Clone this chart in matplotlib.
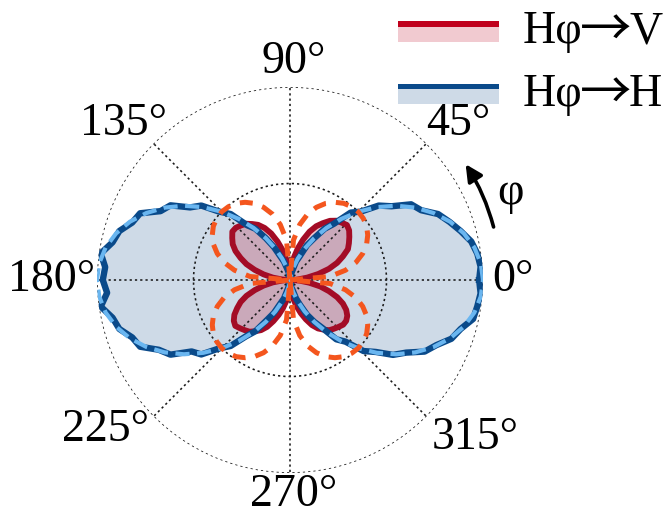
import numpy as np
import matplotlib
matplotlib.use("Agg")
import matplotlib.pyplot as plt
from matplotlib.patches import Rectangle

plt.rcParams["font.family"] = ["Liberation Serif", "DejaVu Serif"]

# Measured intensities (normalised), sampled every 4 degrees of φ
meas_deg = np.arange(0, 360, 4)
hh_meas = [0.98, 0.99, 0.98, 0.96, 0.92, 0.88, 0.84, 0.77, 0.74, 0.65, 0.60, 0.51,
           0.47, 0.37, 0.32, 0.25, 0.20, 0.13, 0.10, 0.05, 0.03, 0.01, 0.00,
           0.01, 0.01, 0.04, 0.06, 0.10, 0.13, 0.19, 0.25, 0.32, 0.36, 0.46, 0.51,
           0.60, 0.64, 0.73, 0.76, 0.85, 0.87, 0.92, 0.94, 0.99, 0.96,
           0.97, 0.95, 0.99, 0.94, 0.92, 0.87, 0.85, 0.77, 0.73, 0.63, 0.60, 0.51,
           0.46, 0.37, 0.32, 0.24, 0.19, 0.13, 0.10, 0.05, 0.03, 0.01, 0.00,
           0.01, 0.01, 0.04, 0.05, 0.10, 0.14, 0.20, 0.25, 0.30, 0.39, 0.43, 0.53,
           0.58, 0.66, 0.71, 0.79, 0.83, 0.89, 0.92, 0.97, 0.98, 0.99]
hv_meas = [0.01, 0.04, 0.09, 0.15, 0.21, 0.26, 0.30, 0.34, 0.36, 0.38, 0.40, 0.41,
           0.40, 0.39, 0.37, 0.34, 0.31, 0.27, 0.22, 0.17, 0.12, 0.07, 0.02,
           0.02, 0.06, 0.11, 0.16, 0.21, 0.26, 0.30, 0.33, 0.35, 0.37, 0.38, 0.39,
           0.39, 0.37, 0.35, 0.32, 0.28, 0.24, 0.19, 0.14, 0.09, 0.04,
           0.01, 0.04, 0.09, 0.14, 0.19, 0.24, 0.28, 0.31, 0.34, 0.36, 0.37, 0.36,
           0.35, 0.34, 0.32, 0.30, 0.27, 0.23, 0.19, 0.15, 0.11, 0.06, 0.02,
           0.02, 0.06, 0.10, 0.14, 0.18, 0.22, 0.26, 0.29, 0.31, 0.33, 0.34, 0.35,
           0.36, 0.36, 0.35, 0.33, 0.30, 0.26, 0.21, 0.16, 0.10, 0.05]

# Fitted curves, sampled every 5 degrees of φ
fit_deg = np.arange(0, 360, 5)
hh_fit = [1.000, 0.992, 0.970, 0.933, 0.883, 0.821, 0.750, 0.671, 0.587, 0.500,
          0.413, 0.329, 0.250, 0.179, 0.117, 0.067, 0.030, 0.008, 0.000,
          0.008, 0.030, 0.067, 0.117, 0.179, 0.250, 0.329, 0.413, 0.500,
          0.587, 0.671, 0.750, 0.821, 0.883, 0.933, 0.970, 0.992,
          1.000, 0.992, 0.970, 0.933, 0.883, 0.821, 0.750, 0.671, 0.587, 0.500,
          0.413, 0.329, 0.250, 0.179, 0.117, 0.067, 0.030, 0.008, 0.000,
          0.008, 0.030, 0.067, 0.117, 0.179, 0.250, 0.329, 0.413, 0.500,
          0.587, 0.671, 0.750, 0.821, 0.883, 0.933, 0.970, 0.992]
hv_fit = [0.000, 0.208, 0.292, 0.354, 0.401, 0.438, 0.465, 0.485, 0.496, 0.500,
          0.496, 0.485, 0.465, 0.438, 0.401, 0.354, 0.292, 0.208,
          0.000, 0.208, 0.292, 0.354, 0.401, 0.438, 0.465, 0.485, 0.496, 0.500,
          0.496, 0.485, 0.465, 0.438, 0.401, 0.354, 0.292, 0.208,
          0.000, 0.208, 0.292, 0.354, 0.401, 0.438, 0.465, 0.485, 0.496, 0.500,
          0.496, 0.485, 0.465, 0.438, 0.401, 0.354, 0.292, 0.208,
          0.000, 0.208, 0.292, 0.354, 0.401, 0.438, 0.465, 0.485, 0.496, 0.500,
          0.496, 0.485, 0.465, 0.438, 0.401, 0.354, 0.292, 0.208]

angle_labels = ["0°", "45°", "90°", "135°", "180°", "225°", "270°", "315°"]
series_in = "Hφ"
series_out = ["V", "H"]

# colours
c_hv_line = "#a30c26"
c_hv_leg = "#c0001c"
c_hv_fill = "#c0102c"
c_hv_fit = "#f4561e"
c_hh_line = "#0a4a8a"
c_hh_fit = "#6ab6f0"

W, H = 665, 517
fig = plt.figure(figsize=(W / 100, H / 100), dpi=100)
cx, cy, R = 290, 280, 193
ax = fig.add_axes([(cx - R) / W, (H - cy - R) / H, 2 * R / W, 2 * R / H],
                  projection="polar")


def closed(deg, vals):
    t = np.deg2rad(np.append(deg, deg[0]))
    r = np.append(np.asarray(vals, float), vals[0])
    return t, r


t, r = closed(meas_deg, hh_meas)
ax.fill(t, r, color=c_hh_line, alpha=0.2, lw=0, zorder=1)
t2, r2 = closed(meas_deg, hv_meas)
ax.fill(t2, r2, color=c_hv_fill, alpha=0.24, lw=0, zorder=1.5)
ax.plot(t2, r2, color=c_hv_line, lw=4.2, zorder=3, solid_joinstyle="round")
ax.plot(t, r, color=c_hh_line, lw=4.6, zorder=4, solid_joinstyle="round")

tf, rf = closed(fit_deg, hh_fit)
ax.plot(tf, rf, color=c_hh_fit, lw=3.0, ls=(0, (3.4, 1.8)), zorder=5)
tf2, rf2 = closed(fit_deg, hv_fit)
ax.plot(tf2, rf2, color=c_hv_fit, lw=3.6, ls=(0, (2.6, 2.0)), zorder=6)

# grid
ax.set_rlim(0, 1.0)
ax.set_rticks([0.5, 1.0])
ax.set_yticklabels([])
ax.set_thetagrids(range(0, 360, 45), labels=[""] * 8)
ax.set_axisbelow(False)
ax.grid(True, color="#1a1a1a", lw=1.15, ls=(0, (1.4, 1.9)))
ax.spines["polar"].set_visible(False)
ax.tick_params(length=0)
ax.set_facecolor("none")

# angle labels around the circle
label_pos = [(0, 1.155), (43, 1.19), (89, 1.13), (136.8, 1.18),
             (180, 1.233), (219, 1.23), (271, 1.115), (319.7, 1.26)]
for (a, rr), s in zip(label_pos, angle_labels):
    ax.text(np.deg2rad(a), rr, s, ha="center", va="center", fontsize=33,
            clip_on=False)

# rotation arrow with φ
ax.annotate("", xy=(np.deg2rad(33.4), 1.09), xytext=(np.deg2rad(14.6), 1.09),
            arrowprops=dict(arrowstyle="-|>,head_length=1.0,head_width=0.5",
                            lw=2.6, color="black", shrinkA=0, shrinkB=0,
                            connectionstyle="arc3,rad=0.08"),
            annotation_clip=False)
ax.text(np.deg2rad(21.5), 1.23, "φ", ha="center", va="center", fontsize=33,
        clip_on=False)


# legend drawn in figure pixels
def fx(x):
    return x / W


def fy(y):
    return 1 - y / H


for (y_line, col_line, col_fill, alpha), out, y_base in zip(
        [(21.5, c_hv_leg, c_hv_fill, 0.22), (84.0, c_hh_line, c_hh_line, 0.2)],
        series_out, [43, 106]):
    fig.add_artist(Rectangle((fx(398), fy(y_line + 20)), fx(101), 15 / H,
                             transform=fig.transFigure, color=col_fill,
                             alpha=alpha, lw=0))
    fig.add_artist(Rectangle((fx(398), fy(y_line + 5.2)), fx(101), 5.2 / H,
                             transform=fig.transFigure, color=col_line, lw=0))
    fig.text(fx(523), fy(y_base), series_in, fontsize=33, ha="left",
             va="baseline")
    fig.text(fx(606), fy(y_base - 11.5), "→", fontsize=37, ha="center",
             va="center", family=["Noto Sans CJK JP", "DejaVu Sans"])
    fig.text(fx(629), fy(y_base), out, fontsize=33, ha="left", va="baseline")

fig.savefig("out.png", dpi=100)
